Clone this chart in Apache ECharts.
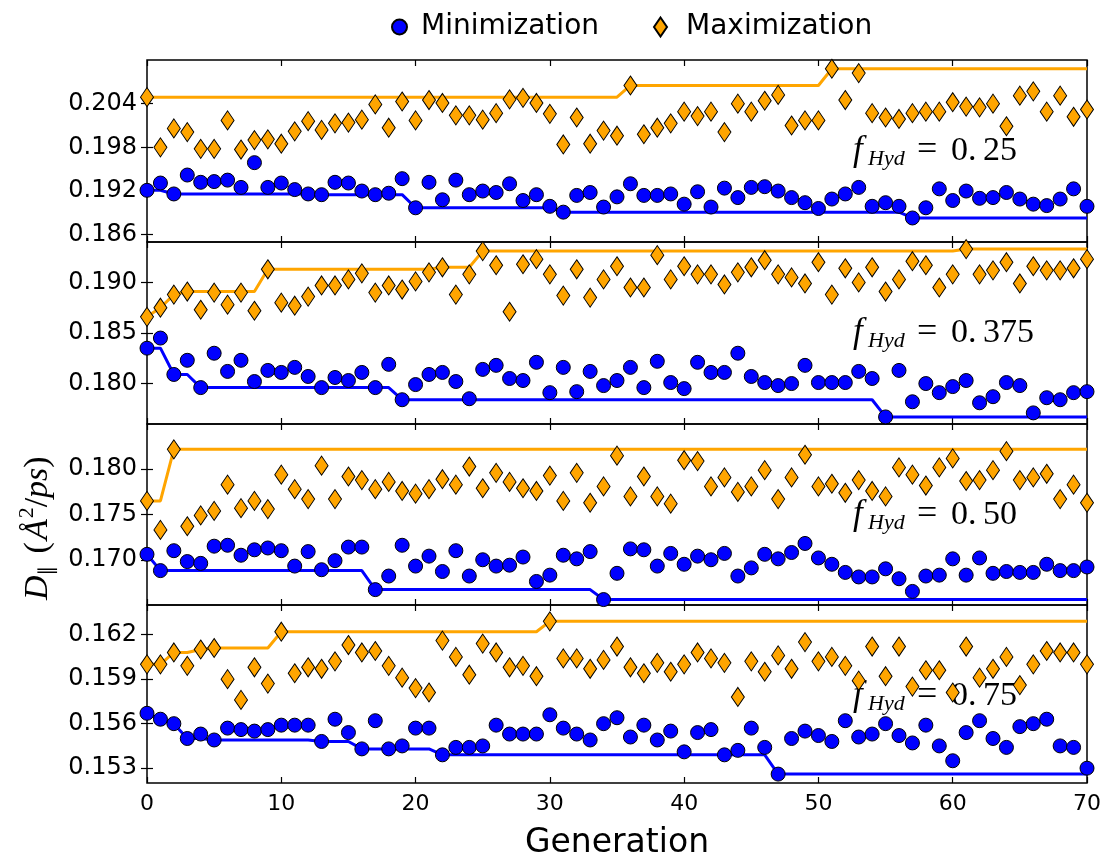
<!DOCTYPE html>
<html><head><meta charset="utf-8">
<script src="https://cdn.jsdelivr.net/npm/echarts@6/dist/echarts.min.js"></script>
<style>html,body{margin:0;padding:0;background:#fff}#c{width:1104px;height:861px}</style>
</head><body><div id="c"></div>
<script>
const generations = [0,1,2,3,4,5,6,7,8,9,10,11,12,13,14,15,16,17,18,19,20,21,22,23,24,25,26,27,28,29,30,31,32,33,34,35,36,37,38,39,40,41,42,43,44,45,46,47,48,49,50,51,52,53,54,55,56,57,58,59,60,61,62,63,64,65,66,67,68,69,70];
const xTicks = [0,10,20,30,40,50,60,70];
const fHydLabels = ['0.25','0.375','0.50','0.75'];

const minimization025 = [0.1921,0.1931,0.1916,0.1942,0.1932,0.1933,0.1935,0.1925,0.1959,0.1925,0.1931,0.1922,0.1916,0.1915,0.1932,0.1931,0.1920,0.1915,0.1917,0.1937,0.1897,0.1932,0.1908,0.1935,0.1915,0.1920,0.1918,0.1930,0.1907,0.1915,0.1899,0.1891,0.1914,0.1918,0.1898,0.1912,0.1930,0.1914,0.1914,0.1916,0.1902,0.1919,0.1898,0.1924,0.1911,0.1925,0.1926,0.1920,0.1911,0.1904,0.1896,0.1909,0.1916,0.1925,0.1899,0.1904,0.1899,0.1883,0.1897,0.1923,0.1907,0.1920,0.1910,0.1911,0.1918,0.1909,0.1902,0.1900,0.1909,0.1923,0.1899];
const maximization025 = [0.2049,0.1980,0.2006,0.2001,0.1978,0.1978,0.2017,0.1977,0.1990,0.1991,0.1985,0.2002,0.2016,0.2004,0.2013,0.2014,0.2018,0.2039,0.2007,0.2043,0.2017,0.2045,0.2041,0.2024,0.2024,0.2018,0.2027,0.2046,0.2048,0.2041,0.2026,0.1984,0.2021,0.1985,0.2003,0.1996,0.2065,0.1998,0.2007,0.2013,0.2029,0.2023,0.2029,0.2001,0.2040,0.2029,0.2044,0.2052,0.2010,0.2017,0.2017,0.2088,0.2045,0.2082,0.2027,0.2021,0.2019,0.2027,0.2029,0.2029,0.2042,0.2036,0.2035,0.2040,0.2009,0.2051,0.2057,0.2029,0.2051,0.2022,0.2032];
const minimization0375 = [0.1835,0.1845,0.1809,0.1823,0.1796,0.1830,0.1812,0.1823,0.1802,0.1813,0.1811,0.1816,0.1807,0.1796,0.1806,0.1803,0.1811,0.1796,0.1819,0.1784,0.1799,0.1809,0.1811,0.1802,0.1785,0.1814,0.1818,0.1805,0.1803,0.1821,0.1791,0.1816,0.1792,0.1812,0.1798,0.1803,0.1816,0.1796,0.1822,0.1801,0.1795,0.1821,0.1811,0.1811,0.1830,0.1807,0.1801,0.1798,0.1800,0.1818,0.1801,0.1801,0.1801,0.1812,0.1805,0.1767,0.1813,0.1782,0.1800,0.1791,0.1797,0.1803,0.1781,0.1787,0.1801,0.1798,0.1771,0.1786,0.1784,0.1791,0.1792];
const maximization0375 = [0.1866,0.1875,0.1888,0.1891,0.1873,0.1890,0.1878,0.1890,0.1872,0.1913,0.1880,0.1877,0.1886,0.1897,0.1897,0.1903,0.1909,0.1890,0.1897,0.1893,0.1901,0.1910,0.1915,0.1888,0.1908,0.1931,0.1917,0.1871,0.1918,0.1923,0.1908,0.1887,0.1913,0.1885,0.1903,0.1916,0.1895,0.1895,0.1927,0.1903,0.1916,0.1908,0.1908,0.1898,0.1910,0.1915,0.1922,0.1908,0.1905,0.1899,0.1920,0.1888,0.1914,0.1900,0.1915,0.1891,0.1903,0.1921,0.1917,0.1895,0.1908,0.1933,0.1908,0.1912,0.1920,0.1899,0.1916,0.1912,0.1912,0.1914,0.1923];
const minimization050 = [0.1706,0.1688,0.1710,0.1698,0.1696,0.1715,0.1716,0.1705,0.1711,0.1713,0.1710,0.1693,0.1709,0.1689,0.1699,0.1714,0.1714,0.1667,0.1682,0.1716,0.1693,0.1704,0.1687,0.1710,0.1682,0.1700,0.1693,0.1694,0.1703,0.1676,0.1683,0.1705,0.1701,0.1709,0.1656,0.1685,0.1712,0.1711,0.1693,0.1707,0.1695,0.1704,0.1700,0.1707,0.1682,0.1691,0.1706,0.1701,0.1708,0.1718,0.1702,0.1695,0.1686,0.1681,0.1681,0.1690,0.1679,0.1665,0.1682,0.1683,0.1701,0.1683,0.1702,0.1685,0.1687,0.1686,0.1686,0.1695,0.1688,0.1688,0.1692];
const maximization050 = [0.1765,0.1733,0.1822,0.1737,0.1749,0.1754,0.1783,0.1757,0.1765,0.1756,0.1794,0.1778,0.1767,0.1804,0.1767,0.1792,0.1788,0.1778,0.1786,0.1776,0.1773,0.1778,0.1789,0.1783,0.1803,0.1779,0.1796,0.1786,0.1779,0.1776,0.1793,0.1765,0.1796,0.1763,0.1781,0.1815,0.1770,0.1792,0.1770,0.1762,0.1810,0.1809,0.1781,0.1791,0.1775,0.1781,0.1799,0.1767,0.1791,0.1816,0.1781,0.1784,0.1774,0.1788,0.1776,0.1770,0.1802,0.1794,0.1782,0.1802,0.1812,0.1787,0.1788,0.1799,0.1820,0.1788,0.1791,0.1795,0.1767,0.1783,0.1763];
const minimization075 = [0.1567,0.1563,0.1560,0.1550,0.1553,0.1549,0.1557,0.1556,0.1555,0.1556,0.1559,0.1559,0.1559,0.1548,0.1563,0.1554,0.1543,0.1562,0.1543,0.1545,0.1557,0.1557,0.1539,0.1544,0.1544,0.1545,0.1559,0.1553,0.1553,0.1553,0.1566,0.1557,0.1553,0.1549,0.1560,0.1564,0.1551,0.1559,0.1549,0.1555,0.1541,0.1554,0.1556,0.1539,0.1542,0.1557,0.1544,0.1526,0.1550,0.1555,0.1552,0.1548,0.1562,0.1551,0.1553,0.1560,0.1552,0.1547,0.1559,0.1545,0.1535,0.1554,0.1562,0.1550,0.1544,0.1558,0.1560,0.1563,0.1545,0.1544,0.1530];
const maximization075 = [0.1600,0.1600,0.1608,0.1599,0.1610,0.1611,0.1590,0.1576,0.1598,0.1587,0.1622,0.1594,0.1598,0.1597,0.1602,0.1613,0.1608,0.1609,0.1599,0.1591,0.1584,0.1581,0.1616,0.1605,0.1593,0.1614,0.1608,0.1598,0.1599,0.1592,0.1629,0.1604,0.1604,0.1597,0.1603,0.1612,0.1598,0.1594,0.1601,0.1595,0.1600,0.1608,0.1604,0.1601,0.1578,0.1602,0.1595,0.1606,0.1597,0.1615,0.1602,0.1605,0.1599,0.1589,0.1612,0.1592,0.1612,0.1585,0.1596,0.1596,0.1581,0.1612,0.1591,0.1597,0.1605,0.1586,0.1600,0.1609,0.1608,0.1608,0.1600];

const yTicks025 = [0.186,0.192,0.198,0.204];
const yTicks0375 = [0.180,0.185,0.190];
const yTicks050 = [0.170,0.175,0.180];
const yTicks075 = [0.153,0.156,0.159,0.162];

const panels = [
  {min: minimization025, max: maximization025, ticks: yTicks025, lo: 0.185, hi: 0.210, label: fHydLabels[0]},
  {min: minimization0375, max: maximization0375, ticks: yTicks0375, lo: 0.176, hi: 0.194, label: fHydLabels[1]},
  {min: minimization050, max: maximization050, ticks: yTicks050, lo: 0.165, hi: 0.185, label: fHydLabels[2]},
  {min: minimization075, max: maximization075, ticks: yTicks075, lo: 0.152, hi: 0.164, label: fHydLabels[3]}
];

// best-so-far curves derived from each generation's values
function bestSoFar(arr, isBetter) {
  const out = []; let cur = arr[0];
  for (const v of arr) { if (isBetter(v, cur)) cur = v; out.push(cur); }
  return out;
}
const pairs = (arr) => generations.map((g, k) => [g, arr[k]]);

const BLUE = '#0000ff', ORANGE = '#ffa500';
const FONT = '"DejaVu Sans", sans-serif';
const SERIF = '"Liberation Serif", "DejaVu Serif", serif';
const tops = [60, 242, 424, 605];
const heights = [182, 182, 181, 182];
const L = 147, W = 940;

const grid = [], xAxis = [], yAxis = [], series = [];
panels.forEach((p, i) => {
  grid.push({left: L, top: tops[i], width: W, height: heights[i], show: true, borderColor: '#000', borderWidth: 1.5, backgroundColor: 'transparent'});
  const tick = {show: true, inside: true, length: 6, lineStyle: {color: '#000', width: 1.2}};
  const last = i === 3;
  xAxis.push({gridIndex: i, type: 'value', min: 0, max: 70, interval: 10, position: 'bottom',
    axisLine: {show: false}, axisTick: tick, splitLine: {show: false},
    axisLabel: {show: last, color: '#000', fontSize: 22, fontFamily: FONT, margin: 10},
    name: last ? 'Generation' : '', nameLocation: 'middle', nameGap: 44,
    nameTextStyle: {fontSize: 33, fontFamily: FONT, color: '#000'}});
  xAxis.push({gridIndex: i, type: 'value', min: 0, max: 70, interval: 10, position: 'top',
    axisLine: {show: false}, axisTick: tick, splitLine: {show: false}, axisLabel: {show: false}});
  yAxis.push({gridIndex: i, type: 'value', min: p.lo, max: p.hi, position: 'left',
    axisLine: {show: false}, splitLine: {show: false},
    axisTick: Object.assign({customValues: p.ticks}, tick),
    axisLabel: {customValues: p.ticks, formatter: v => v.toFixed(3), color: '#000', fontSize: 24, fontFamily: FONT, margin: 10}});
  yAxis.push({gridIndex: i, type: 'value', min: p.lo, max: p.hi, position: 'right',
    axisLine: {show: false}, splitLine: {show: false},
    axisTick: Object.assign({customValues: p.ticks}, tick),
    axisLabel: {show: false, customValues: p.ticks}});
  const xi = 2 * i, yi = 2 * i;
  series.push({type: 'line', xAxisIndex: xi, yAxisIndex: yi, data: pairs(bestSoFar(p.min, (a, b) => a < b)),
    showSymbol: false, symbol: 'none', lineStyle: {color: BLUE, width: 3}, itemStyle: {color: BLUE}, z: 2, silent: true, animation: false});
  series.push({type: 'line', xAxisIndex: xi, yAxisIndex: yi, data: pairs(bestSoFar(p.max, (a, b) => a > b)),
    showSymbol: false, symbol: 'none', lineStyle: {color: ORANGE, width: 3}, itemStyle: {color: ORANGE}, z: 2, silent: true, animation: false});
  series.push({name: 'Minimization', type: 'scatter', xAxisIndex: xi, yAxisIndex: yi, data: pairs(p.min),
    symbol: 'circle', symbolSize: 14, itemStyle: {color: BLUE, borderColor: '#000', borderWidth: 1, opacity: 1}, z: 3, animation: false});
  series.push({name: 'Maximization', type: 'scatter', xAxisIndex: xi, yAxisIndex: yi, data: pairs(p.max),
    symbol: 'diamond', symbolSize: [13, 19], itemStyle: {color: ORANGE, borderColor: '#000', borderWidth: 1, opacity: 1}, z: 3, animation: false});
});

// text measurement for math-like labels
const mctx = document.createElement('canvas').getContext('2d');
function tw(t, font) { mctx.font = font; return mctx.measureText(t).width; }
function mathRun(parts, x0, y0, rotation) {
  const children = []; let x = 0;
  parts.forEach(pt => {
    const font = (pt.italic ? 'italic ' : '') + pt.size + 'px ' + (pt.family || SERIF);
    if (pt.at !== undefined) x = pt.at;
    children.push({type: 'text', x: x, y: (pt.dy || 0) - 0.3 * pt.size,
      style: {text: pt.t, font: font, fill: '#000', textAlign: 'left', textVerticalAlign: 'middle', verticalAlign: 'middle'}});
    x += tw(pt.t, font) + (pt.gap || 0);
  });
  return {type: 'group', x: x0, y: y0, rotation: rotation || 0, children: children, z: 10};
}

const graphic = [];
const baselines = [161, 343, 525, 706];
panels.forEach((p, i) => {
  const parts = p.label.split('.');
  graphic.push(mathRun([
    {t: 'f', italic: true, size: 35, at: 0},
    {t: 'Hyd', italic: true, size: 22, at: 15, dy: 5},
    {t: '=', size: 36, at: 64},
    {t: parts[0] + '.', size: 34, at: 98},
    {t: parts[1], size: 34, at: 130}
  ], 853, baselines[i]));
});
// y axis label: D_parallel (Å^2/ps)
graphic.push(mathRun([
  {t: 'D', italic: true, size: 34},
  {t: '\u2225', size: 20, dy: 6, family: '"DejaVu Sans"', gap: 12},
  {t: '(', size: 34, gap: 2},
  {t: 'Å', italic: true, size: 34, gap: 1},
  {t: '2', size: 22, dy: -14},
  {t: '/', size: 34},
  {t: 'ps', italic: true, size: 34},
  {t: ')', size: 34}
], 48, 600, Math.PI / 2));

const legendText = {color: '#000', fontSize: 28, fontFamily: FONT};
const option = {
  animation: false,
  backgroundColor: '#fff',
  legend: [
    {data: [{name: 'Minimization', icon: 'circle'}], left: 386, top: 8, itemWidth: 15, itemHeight: 15,
      textStyle: Object.assign({padding: [0, 0, 0, 9]}, legendText), selectedMode: false},
    {data: [{name: 'Maximization', icon: 'diamond'}], left: 648, top: 8, itemWidth: 13, itemHeight: 19,
      textStyle: Object.assign({padding: [0, 0, 0, 14]}, legendText), selectedMode: false}
  ],
  grid, xAxis, yAxis, series, graphic
};
const chart = echarts.init(document.getElementById('c'), null, {renderer: 'canvas'});
chart.setOption(option);
</script></body></html>
